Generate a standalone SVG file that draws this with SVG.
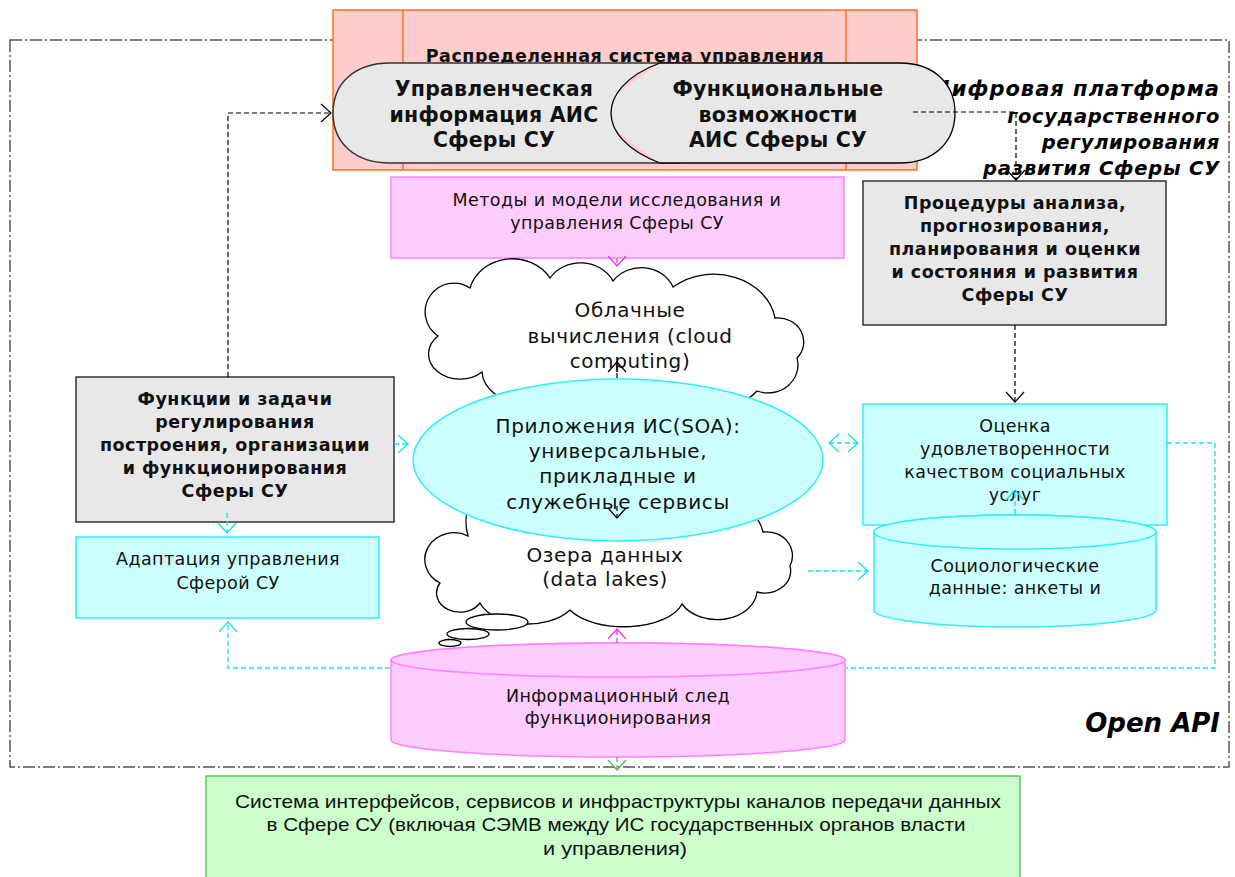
<svg xmlns="http://www.w3.org/2000/svg" width="1235" height="877" viewBox="0 0 1235 877">
  <defs>
    <style>
      .txt { font-family: "DejaVu Sans", Verdana, sans-serif; fill: #111; text-anchor: middle; }
      .n16 { font-size: 17.5px; letter-spacing: 0.4px; }
      .n20 { font-size: 20px; letter-spacing: 0.6px; }
      .b17 { font-size: 17.5px; font-weight: bold; letter-spacing: 0.5px; }
      .b20 { font-size: 20.5px; font-weight: bold; letter-spacing: 0.2px; }
      .title { font-family: "DejaVu Sans", Verdana, sans-serif; font-weight: bold; font-style: italic; fill: #000; text-anchor: end; }
      .narrow { font-family: "Liberation Sans Narrow", "Liberation Sans", Arial, sans-serif; font-size: 19px; fill: #111; text-anchor: middle; }
      .gray { fill: #e8e8e8; stroke: #333; stroke-width: 1.5; }
      .cyan { fill: #ccffff; stroke: #2ef0f8; stroke-width: 1.5; }
      .mag { fill: #ffccff; stroke: #ff80ff; stroke-width: 1.5; }
      .cloud { fill: #ffffff; stroke: #000; stroke-width: 1.3; }
      .c-black { fill: none; stroke: #000; stroke-width: 1.2; stroke-dasharray: 5 3; }
      .c-cyan { fill: none; stroke: #10e4f0; stroke-width: 1.3; stroke-dasharray: 5 3; }
      .c-mag { fill: none; stroke: #f030f0; stroke-width: 1.3; stroke-dasharray: 5 3; }
      .c-green { fill: none; stroke: #44c044; stroke-width: 1.3; stroke-dasharray: 5 3; }
    </style>
    <marker id="ah-black" markerUnits="userSpaceOnUse" markerWidth="14" markerHeight="22" refX="11" refY="10" orient="auto-start-reverse">
      <path d="M1,1 L11,10 L1,19" fill="none" stroke="#000" stroke-width="1.2"/>
    </marker>
    <marker id="ah-cyan" markerUnits="userSpaceOnUse" markerWidth="14" markerHeight="22" refX="11" refY="10" orient="auto-start-reverse">
      <path d="M1,1 L11,10 L1,19" fill="none" stroke="#10e4f0" stroke-width="1.3"/>
    </marker>
    <marker id="ah-mag" markerUnits="userSpaceOnUse" markerWidth="14" markerHeight="22" refX="11" refY="10" orient="auto-start-reverse">
      <path d="M1,1 L11,10 L1,19" fill="none" stroke="#f030f0" stroke-width="1.3"/>
    </marker>
    <marker id="ah-green" markerUnits="userSpaceOnUse" markerWidth="14" markerHeight="22" refX="11" refY="10" orient="auto-start-reverse">
      <path d="M1,1 L11,10 L1,19" fill="none" stroke="#44c044" stroke-width="1.3"/>
    </marker>
  </defs>

  <rect width="1235" height="877" fill="#ffffff"/>

  <!-- platform boundary (dash-dot) -->
  <g id="platform-boundary">
    <rect x="10" y="40" width="1219" height="727" fill="none" stroke="#555" stroke-width="1.5" stroke-dasharray="12 3 2 3"/>
  </g>

  <!-- distributed control system frame -->
  <g id="control-system">
    <rect x="333" y="10" width="584" height="160" fill="#ffcccc" stroke="#ff7020" stroke-width="1.5"/>
    <line x1="403" y1="10" x2="403" y2="170" stroke="#ff7020" stroke-width="1.5"/>
    <line x1="846" y1="10" x2="846" y2="170" stroke="#ff7020" stroke-width="1.5"/>
    <text class="txt b17" x="625" y="62" font-size="18">Распределенная система управления</text>
  </g>

  <!-- platform caption -->
  <g id="platform-title">
    <text class="title" font-size="21" letter-spacing="1" x="1220" y="96">Цифровая платформа</text>
    <text class="title" font-size="19.5" letter-spacing="0.6" x="1220" y="123">государственного</text>
    <text class="title" font-size="19.5" letter-spacing="0.6" x="1220" y="149">регулирования</text>
    <text class="title" font-size="19.5" letter-spacing="0.8" x="1220" y="175">развития Сферы СУ</text>
    <text class="title" font-size="26" x="1220" y="732">Open API</text>
  </g>

  <!-- management information -->
  <g id="mgmt-info">
    <path class="gray" d="M390,63 H680 V163 H390 C355,163 333,143 333,113 C333,83 355,63 390,63 Z"/>
    <text class="txt b20" x="494" y="96">Управленческая</text>
    <text class="txt b20" x="494" y="122">информация АИС</text>
    <text class="txt b20" x="494" y="147">Сферы СУ</text>
  </g>

  <!-- functional capabilities -->
  <g id="func-capabilities">
    <path d="M660,63 C624,76 611,97 611,113 C611,131 626,150 660,163 Z" fill="#ffcccc" stroke="none"/>
    <path d="M660,63 L621,90 C613,99 611,106 611,113 C611,121 613,127 617,131 L659,163 H900 C935,163 955,141 955,113 C955,85 935,63 900,63 Z" fill="#e8e8e8" stroke="none"/>
    <path d="M660,63 H900 C935,63 955,85 955,113 C955,141 935,163 900,163 H660 C626,150 611,131 611,113 C611,97 624,76 660,63 Z" fill="none" stroke="#000" stroke-width="1.3"/>
    <text class="txt b20" x="778" y="96">Функциональные</text>
    <text class="txt b20" x="778" y="122">возможности</text>
    <text class="txt b20" x="778" y="147">АИС Сферы СУ</text>
  </g>

  <!-- research methods and models -->
  <g id="methods">
    <rect class="mag" x="391" y="177" width="453" height="81"/>
    <text class="txt n16" x="617" y="206">Методы и модели исследования и</text>
    <text class="txt n16" x="617" y="229">управления Сферы СУ</text>
  </g>

  <!-- analysis procedures -->
  <g id="procedures">
    <rect class="gray" x="863" y="181" width="303" height="144"/>
    <text class="txt b17" x="1015" y="209">Процедуры анализа,</text>
    <text class="txt b17" x="1015" y="232">прогнозирования,</text>
    <text class="txt b17" x="1015" y="255">планирования и оценки</text>
    <text class="txt b17" x="1015" y="278">и состояния и развития</text>
    <text class="txt b17" x="1015" y="301">Сферы СУ</text>
  </g>

  <!-- cloud computing -->
  <g id="cloud-computing">
    <path class="cloud" d="M438,336 A24,24 0 0 1 470,288 A44,40 0 0 1 550,278 A36,32 0 0 1 613,281 A34,30 0 0 1 673,287 A62,52 0 0 1 775,318 A26,24 0 0 1 797,358 A30,28 0 0 1 757,391 A90,40 0 0 1 600,400 A70,40 0 0 1 482,372 A30,24 0 0 1 438,336 Z"/>
    <text class="txt n20" x="630" y="317">Облачные</text>
    <text class="txt n20" x="630" y="343">вычисления (cloud</text>
    <text class="txt n20" x="630" y="368">computing)</text>
  </g>

  <!-- data lakes -->
  <g id="data-lakes">
    <path class="cloud" d="M468,536 A50,40 0 0 1 620,508 A80,50 0 0 1 763,532 A26,24 0 0 1 790,566 A26,22 0 0 1 757,592 A40,30 0 0 1 682,604 A60,30 0 0 1 570,610 A50,30 0 0 1 480,603 A22,18 0 0 1 440,583 A24,22 0 0 1 468,536 Z"/>
    <ellipse class="cloud" cx="497" cy="622" rx="31" ry="8"/>
    <ellipse class="cloud" cx="468" cy="634" rx="21" ry="5.5"/>
    <ellipse class="cloud" cx="450" cy="643" rx="11" ry="3.5"/>
    <text class="txt n20" x="605" y="562">Озера данных</text>
    <text class="txt n20" x="605" y="586">(data lakes)</text>
  </g>

  <!-- IS applications (SOA) -->
  <g id="soa-apps">
    <ellipse class="cyan" cx="618" cy="460" rx="205" ry="81"/>
    <text class="txt n20" x="618" y="433">Приложения ИС(SOA):</text>
    <text class="txt n20" x="618" y="458">универсальные,</text>
    <text class="txt n20" x="618" y="483">прикладные и</text>
    <text class="txt n20" x="618" y="509">служебные сервисы</text>
  </g>

  <!-- regulation functions and tasks -->
  <g id="functions">
    <rect class="gray" x="76" y="377" width="318" height="145"/>
    <text class="txt b17" x="235" y="405">Функции и задачи</text>
    <text class="txt b17" x="235" y="428">регулирования</text>
    <text class="txt b17" x="235" y="451">построения, организации</text>
    <text class="txt b17" x="235" y="474">и функционирования</text>
    <text class="txt b17" x="235" y="497">Сферы СУ</text>
  </g>

  <!-- management adaptation -->
  <g id="adaptation">
    <rect class="cyan" x="76" y="537" width="303" height="81"/>
    <text class="txt n16" x="228" y="565">Адаптация управления</text>
    <text class="txt n16" x="228" y="589">Сферой СУ</text>
  </g>

  <!-- satisfaction assessment -->
  <g id="assessment">
    <rect class="cyan" x="863" y="404" width="304" height="121"/>
    <text class="txt n16" x="1015" y="432">Оценка</text>
    <text class="txt n16" x="1015" y="455">удовлетворенности</text>
    <text class="txt n16" x="1015" y="478">качеством социальных</text>
    <text class="txt n16" x="1015" y="501">услуг</text>
  </g>

  <!-- sociological data store -->
  <g id="socio-data">
    <path class="cyan" d="M874,532 A141,17 0 0 1 1156,532 V610 A141,17 0 0 1 874,610 Z"/>
    <ellipse class="cyan" cx="1015" cy="532" rx="141" ry="17"/>
    <text class="txt n16" x="1015" y="572">Социологические</text>
    <text class="txt n16" x="1015" y="594">данные: анкеты и</text>
  </g>

  <!-- long feedback line runs behind the trace store -->
  <g id="feedback-line">
    <path class="c-cyan" d="M1167,443 H1215 V668 H845"/>
    <path class="c-cyan" d="M390,668 H228 V622" marker-end="url(#ah-cyan)"/>
  </g>

  <!-- operational trace store -->
  <g id="info-trace">
    <path class="mag" d="M391,660 A227,17 0 0 1 845,660 V740 A227,17 0 0 1 391,740 Z"/>
    <ellipse class="mag" cx="618" cy="660" rx="227" ry="17"/>
    <text class="txt n16" x="618" y="702">Информационный след</text>
    <text class="txt n16" x="618" y="724">функционирования</text>
  </g>

  <!-- interfaces and data channels -->
  <g id="interfaces">
    <rect x="206" y="776" width="814" height="110" fill="#ccffcc" stroke="#55cc55" stroke-width="1.5"/>
    <text class="narrow" x="618" y="808" textLength="766" lengthAdjust="spacingAndGlyphs">Система интерфейсов, сервисов и инфраструктуры каналов передачи данных</text>
    <text class="narrow" x="616" y="831" textLength="699" lengthAdjust="spacingAndGlyphs">в Сфере СУ (включая СЭМВ между ИС государственных органов власти</text>
    <text class="narrow" x="615" y="855" textLength="144" lengthAdjust="spacingAndGlyphs">и управления)</text>
  </g>

  <!-- connectors -->
  <g id="connectors">
    <path class="c-black" d="M228,377 V113 H331" marker-end="url(#ah-black)"/>
    <path class="c-black" d="M913,112 H1016 V180" marker-end="url(#ah-black)"/>
    <path class="c-black" d="M1015,325 V402" marker-end="url(#ah-black)"/>
    <path class="c-mag" d="M617,258 V266" marker-end="url(#ah-mag)"/>
    <path class="c-black" d="M617,378 V362" marker-end="url(#ah-black)"/>
    <path class="c-black" d="M617,506 V518" marker-end="url(#ah-black)"/>
    <path class="c-mag" d="M617,643 V629" marker-end="url(#ah-mag)"/>
    <path class="c-green" d="M617,757 V770" marker-end="url(#ah-green)"/>
    <path class="c-cyan" d="M394,444 H408" marker-end="url(#ah-cyan)"/>
    <path class="c-cyan" d="M829,443 H858" marker-start="url(#ah-cyan)" marker-end="url(#ah-cyan)"/>
    <path class="c-cyan" d="M227,513 V533" marker-end="url(#ah-cyan)"/>
    <path class="c-cyan" d="M808,571 H868" marker-end="url(#ah-cyan)"/>
    <path class="c-cyan" d="M1015,514 V490" marker-end="url(#ah-cyan)"/>
  </g>
</svg>
